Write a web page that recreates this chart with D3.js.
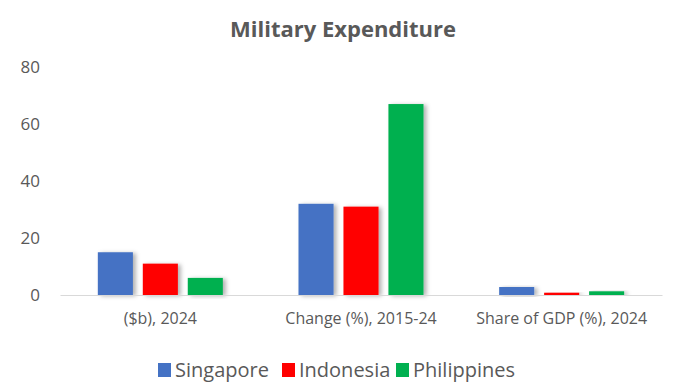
<!DOCTYPE html>
<html lang="en">
<head>
  <meta charset="UTF-8">
  <title>Military Expenditure</title>
  <style>
    body { margin: 0; background: #fff; }
    text { font-family: "Open Sans", "Noto Sans", sans-serif; }
  </style>
</head>
<body>
<svg id="chart"></svg>
<script src="https://cdn.jsdelivr.net/npm/d3@7/dist/d3.min.js"></script>
<script>
const width = 694;
const height = 387;

// data
const categories = ['($b), 2024', 'Change (%), 2015-24', 'Share of GDP (%), 2024'];
const countries = ['Singapore', 'Indonesia', 'Philippines'];
const singapore = [15, 32, 2.8];
const indonesia = [11, 31, 0.8];
const philippines = [6, 67, 1.3];
const yTicks = [0, 20, 40, 60, 80];
const colors = ['#4472C4', '#FF0000', '#00B050'];

const series = [singapore, indonesia, philippines];
const margin = {top: 67, right: 32, bottom: 92, left: 60};

const svg = d3.select('#chart')
  .attr('width', width)
  .attr('height', height);

// bar shadow like the office chart
const defs = svg.append('defs');
defs.append('filter')
  .attr('id', 'shadow')
  .attr('x', '-20%').attr('y', '-20%')
  .attr('width', '150%').attr('height', '140%')
  .append('feDropShadow')
  .attr('dx', 3).attr('dy', 1)
  .attr('stdDeviation', 2)
  .attr('flood-color', '#000')
  .attr('flood-opacity', 0.3);

const x0 = d3.scaleBand()
  .domain(categories)
  .range([margin.left, width - margin.right])
  .paddingInner(0.377)
  .paddingOuter(0.1885);

const x1 = d3.scaleBand()
  .domain(countries)
  .range([0, x0.bandwidth()])
  .paddingInner(0.22)
  .paddingOuter(0);

const y = d3.scaleLinear()
  .domain([0, 80])
  .range([height - margin.bottom, margin.top]);

// title
svg.append('text')
  .attr('x', 343)
  .attr('y', 37)
  .attr('text-anchor', 'middle')
  .attr('font-size', 22)
  .attr('font-weight', 'bold')
  .attr('fill', '#595959')
  .text('Military Expenditure');

// y axis (labels only)
const yAxis = svg.append('g')
  .attr('transform', `translate(${margin.left - 20},0)`)
  .call(d3.axisLeft(y).tickValues(yTicks).tickSize(0).tickPadding(0));
yAxis.select('.domain').remove();
yAxis.selectAll('text')
  .attr('font-size', 17)
  .attr('fill', '#595959')
  .style('font-family', '"Open Sans", sans-serif');

// bars
const groups = svg.append('g')
  .selectAll('g')
  .data(categories)
  .join('g')
  .attr('transform', d => `translate(${x0(d)},0)`);

groups.selectAll('rect')
  .data((d, i) => countries.map((c, k) => ({country: c, value: series[k][i], color: colors[k]})))
  .join('rect')
  .attr('x', d => x1(d.country))
  .attr('y', d => y(d.value))
  .attr('width', x1.bandwidth())
  .attr('height', d => y(0) - y(d.value))
  .attr('fill', d => d.color)
  .attr('filter', 'url(#shadow)');

// x axis
const xAxis = svg.append('g')
  .attr('transform', `translate(0,${y(0)})`)
  .call(d3.axisBottom(x0).tickSize(0).tickPadding(18));
xAxis.select('.domain')
  .attr('stroke', '#d9d9d9')
  .attr('stroke-width', 1.2);
xAxis.selectAll('text')
  .attr('font-size', 16)
  .attr('fill', '#595959')
  .style('font-family', '"Open Sans", sans-serif');

// legend
const legendX = [158, 282, 396];
const legend = svg.append('g')
  .selectAll('g')
  .data(countries)
  .join('g')
  .attr('transform', (d, i) => `translate(${legendX[i]},363)`);

legend.append('rect')
  .attr('width', 13)
  .attr('height', 14)
  .attr('fill', (d, i) => colors[i]);

legend.append('text')
  .attr('x', 17)
  .attr('y', 14)
  .attr('font-size', 20)
  .attr('fill', '#595959')
  .text(d => d);
</script>
</body>
</html>
